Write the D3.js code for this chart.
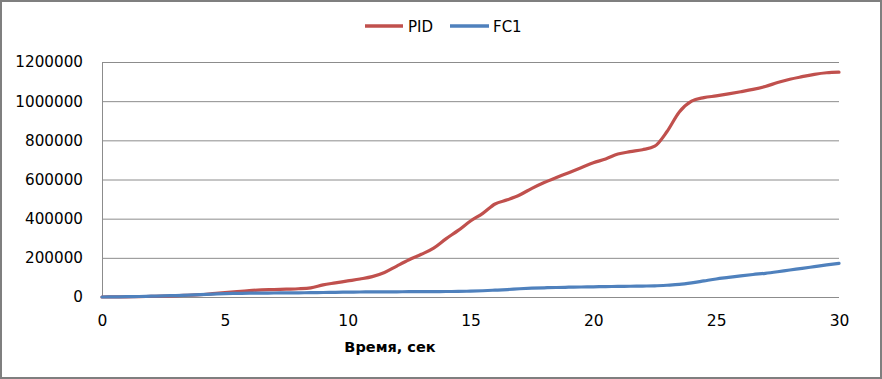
<!DOCTYPE html>
<html><head><meta charset="utf-8">
<script src="https://cdn.jsdelivr.net/npm/d3@7"></script>
<style>body{margin:0;background:#fff}svg{display:block}</style>
</head><body>
<script>
const time = [0,0.5,1,1.5,2,2.5,3,3.5,4,4.5,5,5.5,6,6.5,7,7.5,8,8.5,9,9.5,10,10.5,11,11.5,12,12.5,13,13.5,14,14.5,15,15.5,16,16.5,17,17.5,18,18.5,19,19.5,20,20.5,21,21.5,22,22.5,23,23.5,24,24.5,25,25.5,26,26.5,27,27.5,28,28.5,29,29.5,30];
const pid = [0,500,1000,2000,3000,4500,6000,9000,12000,17000,22000,28000,33000,36000,38000,40000,42000,47000,62000,72000,82000,92000,104000,125000,158000,190000,218000,250000,297000,340000,388000,427000,475000,496000,521000,555000,585000,610000,635000,660000,685000,705000,730000,742000,752000,770000,845000,945000,1000000,1018000,1027000,1037000,1048000,1060000,1075000,1095000,1112000,1125000,1137000,1145000,1148000];
const fc1 = [0,500,1500,2500,4000,5500,7500,9500,12000,14500,17000,18500,19500,20000,20500,21000,21500,22000,23000,24000,25000,25500,26000,26000,26500,27000,27000,27500,28000,28500,30000,32000,35000,38000,42000,45000,47000,48500,50000,51000,52000,53000,54000,55000,56000,57000,60000,64000,72000,82000,92000,100000,108000,115000,121000,129000,138000,146000,155000,164000,172000];
const seriesNames = ["PID","FC1"];
const xTicks = [0,5,10,15,20,25,30];
const yTicks = [0,200000,400000,600000,800000,1000000,1200000];
const xTitle = "Время, сек";

const W=882,H=379;
const svg=d3.select("body").append("svg").attr("width",W).attr("height",H);
svg.append("rect").attr("x",1).attr("y",1).attr("width",W-2).attr("height",H-2)
  .attr("fill","#fff").attr("stroke","#7f7f7f").attr("stroke-width",2);

const x=d3.scaleLinear().domain([0,30]).range([102,839]);
const y=d3.scaleLinear().domain([0,1200000]).range([297,62]);
const font="'DejaVu Sans', sans-serif";

// gridlines
svg.append("g").selectAll("line").data(yTicks).join("line")
  .attr("x1",x(0)).attr("x2",x(30)).attr("y1",d=>y(d)+0.5).attr("y2",d=>y(d)+0.5)
  .attr("stroke","#8c8c8c").attr("stroke-width",1);
// y axis line
svg.append("line").attr("x1",x(0)+0.5).attr("x2",x(0)+0.5).attr("y1",y(1200000)).attr("y2",y(0))
  .attr("stroke","#8c8c8c");

// y labels
const ya=svg.append("g").attr("transform",`translate(${x(0)},0)`)
  .call(d3.axisLeft(y).tickValues(yTicks).tickFormat(d3.format("d")).tickSize(0).tickPadding(19));
ya.select(".domain").remove();
ya.selectAll("text").attr("font-family",font).attr("font-size",15.2).attr("fill","#000");

// x labels
const xa=svg.append("g").attr("transform",`translate(0,${y(0)})`)
  .call(d3.axisBottom(x).tickValues(xTicks).tickFormat(d3.format("d")).tickSize(0).tickPadding(18));
xa.select(".domain").remove();
xa.selectAll("text").attr("font-family",font).attr("font-size",15.5).attr("fill","#000");

svg.append("text").attr("x",390).attr("y",352).attr("text-anchor","middle")
  .attr("font-family",font).attr("font-weight","bold").attr("font-size",14.5).text(xTitle);

const colors=["#C0504D","#4F81BD"];
const data=[pid,fc1];
const line=d3.line().x((d,i)=>x(time[i])).y(d=>y(d)).curve(d3.curveMonotoneX);
data.forEach((s,k)=>{
  svg.append("path").attr("d",line(s)).attr("fill","none").attr("stroke",colors[k])
    .attr("stroke-width",3.2).attr("stroke-linejoin","round").attr("stroke-linecap","round");
});

// legend
const leg=[{x1:365,x2:403,tx:408},{x1:450,x2:489,tx:493}];
leg.forEach((l,k)=>{
  svg.append("line").attr("x1",l.x1).attr("x2",l.x2).attr("y1",26).attr("y2",26)
    .attr("stroke",colors[k]).attr("stroke-width",3.5);
  svg.append("text").attr("x",l.tx).attr("y",31.5).attr("font-family",font).attr("font-size",15)
    .attr("fill","#000").text(seriesNames[k]);
});
</script>
</body></html>
